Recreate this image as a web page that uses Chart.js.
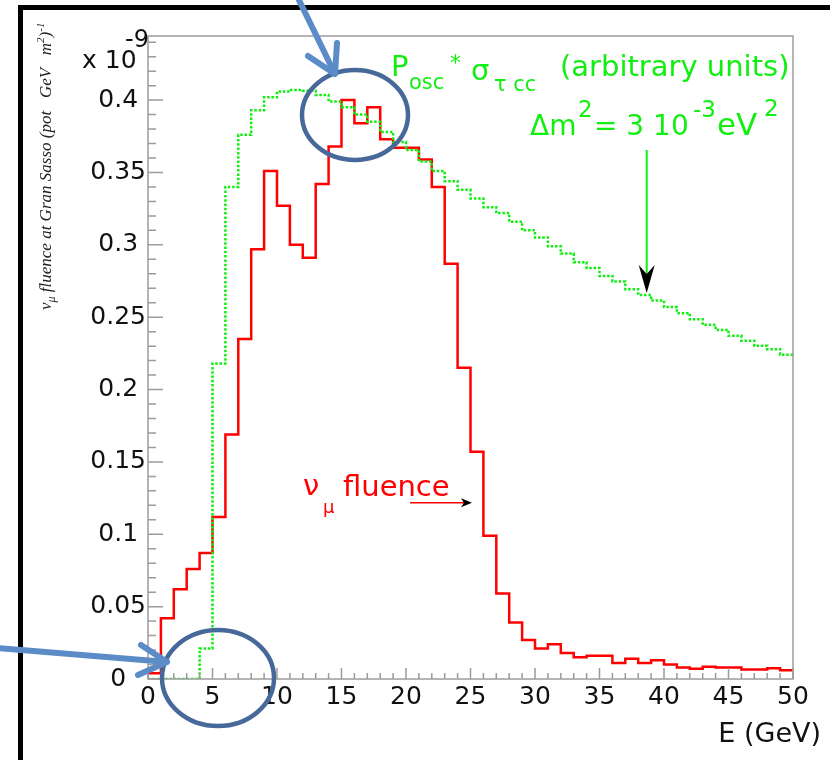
<!DOCTYPE html>
<html>
<head>
<meta charset="utf-8">
<title>nu_mu fluence at Gran Sasso</title>
<script src="https://cdn.jsdelivr.net/npm/chart.js@4.4.1/dist/chart.umd.min.js"></script>
<style>
  html, body { margin: 0; padding: 0; background: #fff; }
  #wrap { width: 830px; height: 760px; }
</style>
</head>
<body>
<div id="wrap"><canvas id="fluenceChart" width="830" height="760"></canvas></div>
<script>
// low edge of each 1 GeV bin
const binLow = [0, 1, 2, 3, 4, 5, 6, 7, 8, 9,
  10, 11, 12, 13, 14, 15, 16, 17, 18, 19,
  20, 21, 22, 23, 24, 25, 26, 27, 28, 29,
  30, 31, 32, 33, 34, 35, 36, 37, 38, 39,
  40, 41, 42, 43, 44, 45, 46, 47, 48, 49];
const binWidth = 1;

// nu_mu fluence (x 1e-9), red histogram
const numuFluence = [0.004, 0.042, 0.062, 0.076, 0.087, 0.112, 0.169, 0.235, 0.297, 0.351,
  0.327, 0.300, 0.291, 0.342, 0.368, 0.400, 0.384, 0.395, 0.373, 0.367,
  0.367, 0.359, 0.340, 0.287, 0.215, 0.157, 0.099, 0.059, 0.039, 0.027,
  0.021, 0.024, 0.018, 0.015, 0.016, 0.016, 0.011, 0.014, 0.011, 0.013,
  0.010, 0.008, 0.007, 0.0085, 0.008, 0.008, 0.0065, 0.0065, 0.0075, 0.006];

// Posc * sigma_tau cc (arbitrary units), green dotted histogram
const tauRate = [0, 0, 0, 0, 0.021, 0.218, 0.340, 0.376, 0.393, 0.402,
  0.406, 0.407, 0.4065, 0.4035, 0.399, 0.395, 0.390, 0.385, 0.378, 0.371,
  0.3655, 0.3575, 0.351, 0.344, 0.338, 0.332, 0.326, 0.322, 0.316, 0.310,
  0.305, 0.299, 0.294, 0.288, 0.284, 0.2785, 0.2746, 0.2693, 0.2654, 0.2615,
  0.257, 0.2528, 0.2486, 0.2447, 0.2412, 0.2371, 0.2338, 0.2302, 0.2279, 0.224];

const xTicks = [0, 5, 10, 15, 20, 25, 30, 35, 40, 45, 50];
const xTickLabels = ["0", "5", "10", "15", "20", "25", "30", "35", "40", "45", "50"];
const yTicks = [0, 0.05, 0.1, 0.15, 0.2, 0.25, 0.3, 0.35, 0.4];
const yTickLabels = ["0", "0.05", "0.1", "0.15", "0.2", "0.25", "0.3", "0.35", "0.4"];

const SANS = "'DejaVu Sans', 'Liberation Sans', Arial, sans-serif";
const SERIF = "'Liberation Serif', 'Times New Roman', serif";

function histPoints(values) {
  const pts = values.map((v, i) => ({ x: binLow[i], y: v }));
  const last = values.length - 1;
  pts.push({ x: binLow[last] + binWidth, y: values[last] });
  return pts;
}

// ROOT style frame: grey box, ticks pointing inwards
const frameTicks = {
  id: "frameTicks",
  afterDatasetsDraw(chart) {
    const { ctx, chartArea: a, scales: { x, y } } = chart;
    ctx.save();
    ctx.strokeStyle = "#9c9c9c";
    ctx.lineWidth = 1.5;
    ctx.strokeRect(a.left, a.top, a.right - a.left, a.bottom - a.top);
    ctx.beginPath();
    for (let i = 0; i * 0.01 <= y.max + 1e-9; i++) {
      const py = y.getPixelForValue(i * 0.01);
      const len = i % 5 === 0 ? 15 : 8;
      ctx.moveTo(a.left, py);
      ctx.lineTo(a.left + len, py);
    }
    for (let i = 0; i <= 50; i++) {
      const px = x.getPixelForValue(i);
      const len = i % 5 === 0 ? 11 : 6;
      ctx.moveTo(px, a.bottom);
      ctx.lineTo(px, a.bottom - len);
    }
    ctx.stroke();
    ctx.restore();
  }
};

function arrowHead(ctx, tipX, tipY, dirX, dirY, len, half, notch, fill) {
  const nx = -dirY, ny = dirX;
  const bx = tipX - dirX * len, by = tipY - dirY * len;
  ctx.beginPath();
  ctx.moveTo(tipX, tipY);
  ctx.lineTo(bx + nx * half, by + ny * half);
  ctx.lineTo(tipX - dirX * (len - notch), tipY - dirY * (len - notch));
  ctx.lineTo(bx - nx * half, by - ny * half);
  ctx.closePath();
  ctx.fillStyle = fill;
  ctx.fill();
}

function drawRuns(ctx, runs, color) {
  ctx.fillStyle = color;
  ctx.textBaseline = "alphabetic";
  ctx.textAlign = "left";
  runs.forEach(r => {
    ctx.font = r.size + "px " + SANS;
    ctx.fillText(r.t, r.x, r.y);
  });
}

const annotations = {
  id: "annotations",
  afterDraw(chart) {
    const { ctx } = chart;
    ctx.save();

    // slide frame (top and left edges)
    ctx.fillStyle = "#000";
    ctx.fillRect(18, 5, 812, 5);
    ctx.fillRect(18, 5, 5, 755);

    // exponent
    drawRuns(ctx, [
      { t: "x 10", x: 82, y: 68, size: 25 },
      { t: "-9", x: 125, y: 47, size: 24 }
    ], "#111");

    // axis title
    ctx.fillStyle = "#111";
    ctx.font = "27px " + SANS;
    ctx.textAlign = "right";
    ctx.fillText("E (GeV)", 821, 742);

    // y title, rotated, italic serif
    ctx.save();
    ctx.translate(51, 310);
    ctx.rotate(-Math.PI / 2);
    ctx.fillStyle = "#222";
    ctx.textAlign = "left";
    let cx = 0;
    [
      { t: "\u03bd", s: 17, dy: 0 },
      { t: "\u03bc", s: 12, dy: 4 },
      { t: " fluence at Gran Sasso (pot   GeV   m", s: 17, dy: 0 },
      { t: "2", s: 11, dy: -7 },
      { t: ")", s: 17, dy: 0 },
      { t: "-1", s: 11, dy: -7 }
    ].forEach(r => {
      ctx.font = "italic " + r.s + "px " + SERIF;
      ctx.fillText(r.t, cx, r.dy);
      cx += ctx.measureText(r.t).width;
    });
    ctx.restore();

    // green label
    const green = "#11ee11";
    drawRuns(ctx, [
      { t: "P", x: 391, y: 76, size: 29 },
      { t: "osc", x: 409, y: 89, size: 21 },
      { t: "*", x: 450, y: 70, size: 22 },
      { t: "\u03c3", x: 471, y: 80, size: 29 },
      { t: "\u03c4 cc", x: 494, y: 91, size: 21 },
      { t: "(arbitrary units)", x: 560, y: 76, size: 29 },
      { t: "\u0394m", x: 530, y: 135, size: 28 },
      { t: "2", x: 578, y: 117, size: 23 },
      { t: "= 3 10", x: 594, y: 135, size: 28 },
      { t: "-3", x: 693, y: 117, size: 23 },
      { t: "eV", x: 717, y: 135, size: 31 },
      { t: "2", x: 764, y: 116, size: 23 }
    ], green);

    // green arrow
    ctx.strokeStyle = green;
    ctx.lineWidth = 2;
    ctx.beginPath();
    ctx.moveTo(646.7, 150);
    ctx.lineTo(646.7, 280);
    ctx.stroke();
    arrowHead(ctx, 646.7, 293, 0, 1, 28, 8, 9, "#000");

    // red label + arrow
    const red = "#ff0000";
    drawRuns(ctx, [
      { t: "\u03bd", x: 303, y: 495, size: 29 },
      { t: "\u03bc", x: 323, y: 513, size: 18 },
      { t: "fluence", x: 343, y: 496, size: 29 }
    ], red);
    ctx.strokeStyle = red;
    ctx.lineWidth = 1.5;
    ctx.beginPath();
    ctx.moveTo(410, 502.7);
    ctx.lineTo(466, 502.7);
    ctx.stroke();
    arrowHead(ctx, 472, 502.7, 1, 0, 11, 4.5, 3, "#000");

    // blue highlight ellipses and arrows
    ctx.strokeStyle = "#46699a";
    ctx.lineWidth = 4.5;
    ctx.beginPath();
    ctx.ellipse(355, 115, 53, 45, 0, 0, Math.PI * 2);
    ctx.stroke();
    ctx.beginPath();
    ctx.ellipse(218, 678, 56, 48, 0, 0, Math.PI * 2);
    ctx.stroke();

    ctx.strokeStyle = "#5b8cc8";
    ctx.lineWidth = 6;
    ctx.lineCap = "round";
    ctx.lineJoin = "round";
    ctx.beginPath();
    ctx.moveTo(297, -4);
    ctx.lineTo(335, 74);
    ctx.moveTo(308, 56);
    ctx.lineTo(335, 74);
    ctx.lineTo(337, 43);
    ctx.moveTo(-4, 648);
    ctx.lineTo(167, 662);
    ctx.moveTo(141, 645);
    ctx.lineTo(167, 662);
    ctx.lineTo(138, 675);
    ctx.stroke();

    ctx.restore();
  }
};

new Chart(document.getElementById("fluenceChart"), {
  type: "line",
  data: {
    datasets: [
      {
        label: "Posc * sigma_tau cc",
        data: histPoints(tauRate),
        borderColor: "#11ee11",
        borderWidth: 2.5,
        borderDash: [2.5, 1.8],
        stepped: true,
        pointRadius: 0,
        fill: false,
        order: 0
      },
      {
        label: "nu_mu fluence",
        data: histPoints(numuFluence),
        borderColor: "#ff0000",
        borderWidth: 2.5,
        stepped: true,
        pointRadius: 0,
        fill: false,
        order: 1
      }
    ]
  },
  options: {
    responsive: false,
    animation: false,
    layout: { padding: { left: 0, top: 36, right: 37, bottom: 0 } },
    plugins: { legend: { display: false }, tooltip: { enabled: false } },
    scales: {
      x: {
        type: "linear",
        min: 0,
        max: 50,
        grid: { display: false, drawTicks: false },
        border: { display: false },
        afterBuildTicks: s => { s.ticks = xTicks.map(v => ({ value: v })); },
        afterFit: s => { s.height = 81; },
        ticks: {
          padding: 3,
          autoSkip: false,
          maxRotation: 0,
          color: "#111",
          font: { family: SANS, size: 25 },
          callback: (v, i) => xTickLabels[i]
        }
      },
      y: {
        type: "linear",
        min: 0,
        max: 0.4443,
        grid: { display: false, drawTicks: false },
        border: { display: false },
        afterBuildTicks: s => { s.ticks = yTicks.map(v => ({ value: v })); },
        afterFit: s => { s.width = 148; },
        ticks: {
          padding: 2,
          crossAlign: "center",
          autoSkip: false,
          color: "#111",
          font: { family: SANS, size: 25 },
          callback: (v, i) => yTickLabels[i]
        }
      }
    }
  },
  plugins: [frameTicks, annotations]
});
</script>
</body>
</html>
